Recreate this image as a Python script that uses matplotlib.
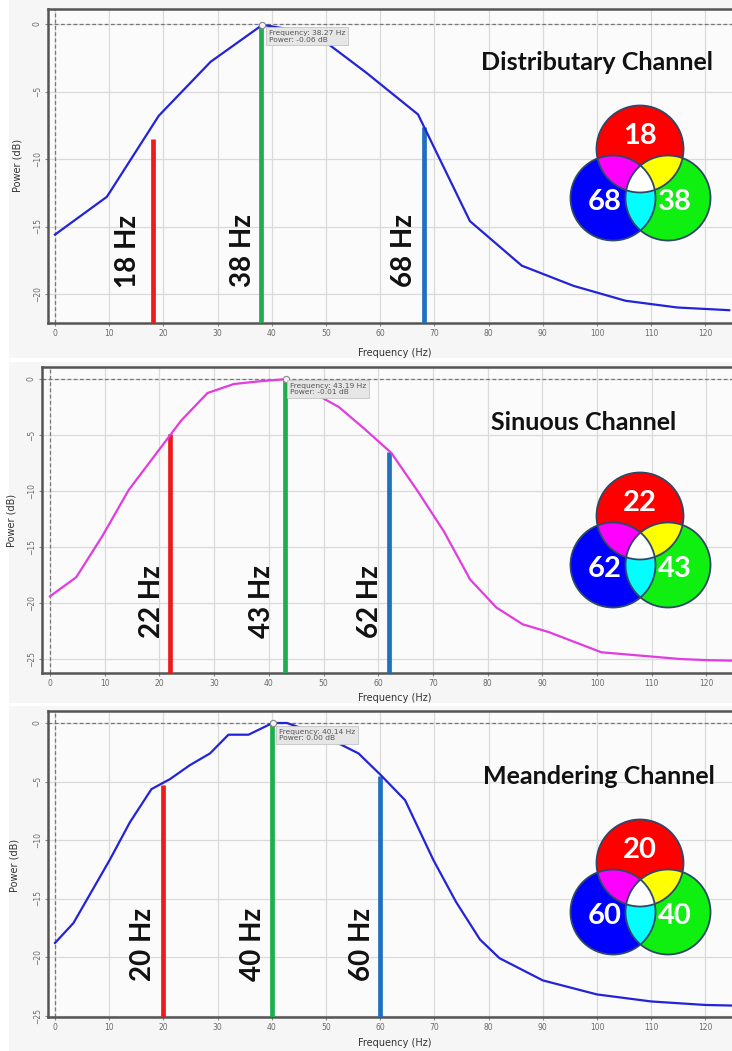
import numpy as np
import matplotlib
matplotlib.use("Agg")
import matplotlib.pyplot as plt
from matplotlib.patches import Circle, Polygon, Rectangle

W, H = 732, 1051

# ---------------- data ----------------
x_ticks = list(range(0, 130, 10))

dist_freq = [0, 9.57, 19.14, 28.71, 38.27, 47.84, 57.41, 66.98, 76.55, 86.12,
             95.69, 105.26, 114.83, 124.40]
dist_power = [-15.6, -12.8, -6.8, -2.8, -0.06, -0.7, -3.6, -6.7, -14.6, -17.9,
              -19.4, -20.5, -21.0, -21.2]
dist_bands = [18, 38, 68]
dist_band_top = [-8.5, -0.06, -7.6]
dist_peak = (38.27, -0.06)

sin_freq = [0, 4.8, 9.6, 14.4, 19.2, 24.0, 28.8, 33.6, 38.4, 43.19, 48.0, 52.8,
            57.6, 62.4, 67.2, 72.0, 76.8, 81.6, 86.4, 91.2, 96.0, 100.8, 105.6,
            110.4, 115.2, 120.0, 124.8]
sin_power = [-19.4, -17.7, -14.0, -9.9, -6.8, -3.7, -1.25, -0.45, -0.2, -0.01,
             -1.2, -2.5, -4.5, -6.6, -10.0, -13.6, -17.9, -20.4, -21.9, -22.6,
             -23.5, -24.4, -24.6, -24.8, -25.0, -25.1, -25.15]
sin_bands = [22, 43, 62]
sin_band_top = [-4.9, -0.01, -6.5]
sin_peak = (43.19, -0.01)

mean_freq = [0, 3.4, 10.1, 13.8, 17.8, 21.2, 24.9, 28.6, 32.0, 35.7, 40.14, 42.8,
             45.2, 50.0, 56.0, 60.0, 64.6, 69.8, 74.0, 78.4, 82.0, 90.0, 100.0,
             110.0, 120.0, 125.0]
mean_power = [-18.8, -17.1, -11.7, -8.5, -5.65, -4.8, -3.6, -2.6, -1.0, -1.0, 0.0,
              0.0, -0.4, -1.2, -2.6, -4.4, -6.6, -11.7, -15.3, -18.5, -20.1,
              -22.0, -23.2, -23.8, -24.1, -24.15]
mean_bands = [20, 40, 60]
mean_band_top = [-5.3, 0.2, -4.5]
mean_peak = (40.14, 0.00)

titles = ["Distributary Channel", "Sinuous Channel", "Meandering Channel"]

# ---------------- styling / layout ----------------
BAND_COLORS = ["#ec1c1c", "#1fae4f", "#1f70c0"]
LBL_FONT = ["Lato", "DejaVu Sans"]

panels = [
    dict(freq=dist_freq, power=dist_power, bands=dist_bands, tops=dist_band_top,
         peak=dist_peak, color="#2323d8", title=titles[0],
         bg=(9, 0, 732, 358), box=(48, 9, 732, 323), x0=55, pxhz=5.42,
         y0=24, pxdb=13.5, yticks=[0, -5, -10, -15, -20],
         lbl_x=[128, 243, 404], lbl_y=251, title_xy=(597, 63),
         tip_xy=(269, 30), xlab_y=353, ylab=(17, 165), venn_dy=0),
    dict(freq=sin_freq, power=sin_power, bands=sin_bands, tops=sin_band_top,
         peak=sin_peak, color="#e03ce0", title=titles[1],
         bg=(9, 362, 732, 703), box=(42, 367, 732, 673), x0=50, pxhz=5.47,
         y0=379, pxdb=11.2, yticks=[0, -5, -10, -15, -20, -25],
         lbl_x=[152, 262, 370], lbl_y=602, title_xy=(584, 423),
         tip_xy=(290, 383), xlab_y=698, ylab=(12, 520), venn_dy=367),
    dict(freq=mean_freq, power=mean_power, bands=mean_bands, tops=mean_band_top,
         peak=mean_peak, color="#2323d8", title=titles[2],
         bg=(9, 706, 732, 1051), box=(48, 711, 732, 1017), x0=55, pxhz=5.42,
         y0=723, pxdb=11.7, yticks=[0, -5, -10, -15, -20, -25],
         lbl_x=[143, 253, 362], lbl_y=944, title_xy=(599, 777),
         tip_xy=(279, 729), xlab_y=1043, ylab=(15, 865), venn_dy=714),
]

fig = plt.figure(figsize=(W / 100, H / 100), dpi=100)
fig.patch.set_facecolor("white")


def fx(px):
    return px / W


def fy(py):
    return 1 - py / H


def px_axes(x0, y0, x1, y1, **kw):
    return fig.add_axes([x0 / W, 1 - y1 / H, (x1 - x0) / W, (y1 - y0) / H], **kw)


def convex_intersection(circles, n=1440):
    """Polygon of the (convex) intersection of several circles."""
    t = np.linspace(0, 2 * np.pi, n, endpoint=False)
    pts = []
    for i, (cx, cy, r) in enumerate(circles):
        p = np.column_stack([cx + r * np.cos(t), cy + r * np.sin(t)])
        ok = np.ones(n, bool)
        for j, (ox, oy, orr) in enumerate(circles):
            if i != j:
                ok &= (p[:, 0] - ox) ** 2 + (p[:, 1] - oy) ** 2 <= orr ** 2 + 1e-6
        pts.append(p[ok])
    pts = np.vstack(pts)
    c = pts.mean(0)
    order = np.argsort(np.arctan2(pts[:, 1] - c[1], pts[:, 0] - c[0]))
    return pts[order]


def draw_venn(dy, labels):
    ax = px_axes(555, 95 + dy, 725, 255 + dy)
    ax.set_xlim(555, 725)
    ax.set_ylim(255 + dy, 95 + dy)
    ax.axis("off")
    red = (640, 149 + dy, 43.5)
    blue = (613, 198 + dy, 42.5)
    green = (668, 198 + dy, 42.5)
    for (cx, cy, rr), col in [(red, "#ff0000"), (blue, "#0000ff"), (green, "#10f010")]:
        ax.add_patch(Circle((cx, cy), rr, facecolor=col, edgecolor="none"))
    for pair, col in [((red, blue), "#ff00ff"), ((red, green), "#ffff00"),
                      ((blue, green), "#00ffff")]:
        ax.add_patch(Polygon(convex_intersection(pair), closed=True,
                             facecolor=col, edgecolor="none"))
    ax.add_patch(Polygon(convex_intersection((red, blue, green)), closed=True,
                         facecolor="white", edgecolor="none"))
    for cx, cy, rr in (red, blue, green):
        ax.add_patch(Circle((cx, cy), rr, facecolor="none", edgecolor="#2d4868", lw=1.3))
    txt = dict(color="white", fontsize=21, fontweight="bold", family=LBL_FONT,
               ha="center", va="center")
    ax.text(640, 136 + dy, str(labels[0]), **txt)
    ax.text(605, 202 + dy, str(labels[2]), **txt)
    ax.text(675, 202 + dy, str(labels[1]), **txt)


for p in panels:
    bx0, by0, bx1, by1 = p["bg"]
    fig.patches.append(Rectangle((fx(bx0), fy(by1)), (bx1 - bx0) / W, (by1 - by0) / H,
                                 transform=fig.transFigure, facecolor="#f6f6f6",
                                 edgecolor="none", zorder=-10))

    x0, y0, x1, y1 = p["box"]
    ax = px_axes(x0, y0, x1, y1)
    ax.set_facecolor("#fbfbfb")
    ax.set_xlim((x0 - p["x0"]) / p["pxhz"], (x1 - p["x0"]) / p["pxhz"])
    ax.set_ylim(-(y1 - p["y0"]) / p["pxdb"], (p["y0"] - y0) / p["pxdb"])

    ax.set_xticks(x_ticks)
    ax.set_yticks(p["yticks"])
    ax.grid(True, color="#dadada", lw=0.9)
    ax.set_axisbelow(True)
    ax.tick_params(axis="both", labelsize=5.5, labelcolor="#6a6a6a", color="#888",
                   length=2.5, width=0.8, pad=2)
    ax.tick_params(axis="y", labelrotation=90)
    for lab in ax.get_yticklabels():
        lab.set_va("center")
    for side in ("left", "bottom", "top"):
        ax.spines[side].set_color("#555555")
        ax.spines[side].set_linewidth(1.8)
    ax.spines["right"].set_visible(False)

    # cursor cross-hair
    ax.axhline(0, color="#777777", lw=0.9, ls=(0, (3, 2)), zorder=2)
    ax.axvline(0, color="#777777", lw=0.9, ls=(0, (3, 2)), zorder=2)

    ybot = ax.get_ylim()[0]
    for f, top, col in zip(p["bands"], p["tops"], BAND_COLORS):
        ax.plot([f, f], [ybot, top], color=col, lw=3.4, solid_capstyle="butt", zorder=3)

    ax.plot(p["freq"], p["power"], color=p["color"], lw=1.6, zorder=4)
    ax.plot(*p["peak"], marker="o", ms=4.5, mfc="#f4f4f4", mec="#888888", mew=0.8,
            zorder=5)

    for f, lx in zip(p["bands"], p["lbl_x"]):
        fig.text(fx(lx), fy(p["lbl_y"]), f"{f} Hz", rotation=90, ha="center",
                 va="center", fontsize=20, fontweight="bold", family=LBL_FONT,
                 color="#111111", zorder=6)

    tx, ty = p["tip_xy"]
    fig.text(fx(tx), fy(ty),
             f"Frequency: {p['peak'][0]:.2f} Hz\nPower: {p['peak'][1]:.2f} dB",
             ha="left", va="top", fontsize=5.4, color="#555555", linespacing=1.1,
             bbox=dict(boxstyle="square,pad=0.35", facecolor="#e6e6e6",
                       edgecolor="#c4c4c4", lw=0.6), zorder=7)

    tx, ty = p["title_xy"]
    fig.text(fx(tx), fy(ty), p["title"], ha="center", va="center", fontsize=18,
             fontweight="bold", family=LBL_FONT, color="#111111")

    fig.text(fx(395), fy(p["xlab_y"]), "Frequency (Hz)", ha="center", va="center",
             fontsize=7, color="#333333")
    lx, ly = p["ylab"]
    fig.text(fx(lx), fy(ly), "Power (dB)", ha="center", va="center", rotation=90,
             fontsize=7, color="#333333")

    draw_venn(p["venn_dy"], p["bands"])

fig.savefig("out.png", dpi=100)
